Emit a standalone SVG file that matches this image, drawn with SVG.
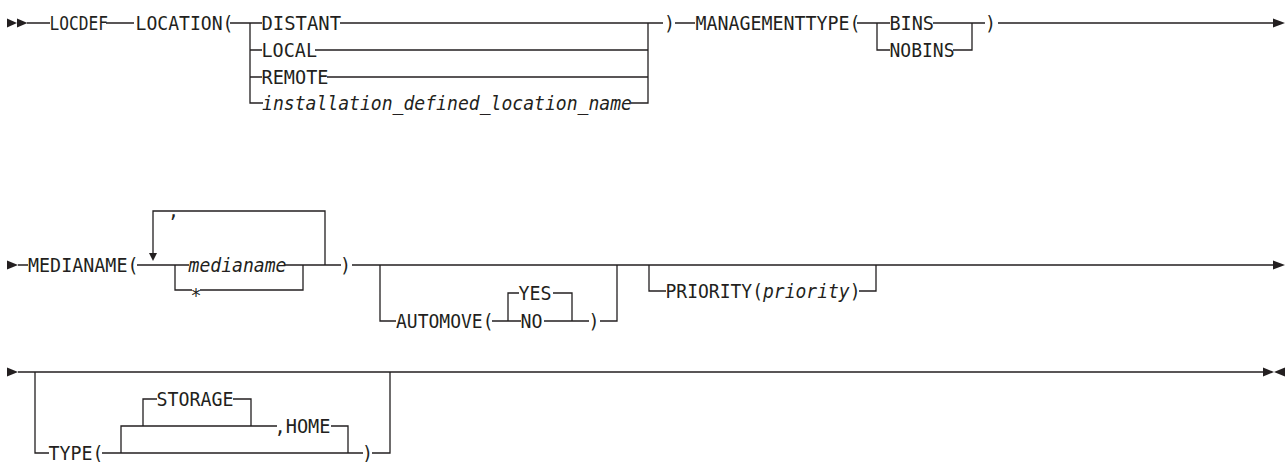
<svg xmlns="http://www.w3.org/2000/svg" width="1286" height="462" viewBox="0 0 1286 462">
<style>
  .t { font-family: "DejaVu Sans Mono", "Liberation Mono", monospace; font-size: 19px; fill: #231f20; }
  .i { font-style: italic; }
  .c { fill: none; stroke: #231f20; stroke-width: 1.3; }
  .a { fill: #231f20; stroke: none; }
</style>
<rect width="1286" height="462" fill="#ffffff"/>
<g id="connectors">
  <!-- row 1 -->
  <polygon class="a" points="7,18.5 17,23 7,27.5"/>
  <polygon class="a" points="17,18.5 27.5,23 17,27.5"/>
  <path class="c" d="M27,23 H50 M106,23 H134 M230,23 H262 M250,23 V103 H263 M250,50 H262 M250,77 H262"/>
  <path class="c" d="M340,23 H648 V103 H631 M315,50 H648 M327,77 H648 M648,23 H663 M675,23 H695"/>
  <path class="c" d="M857,23 H890 M877,23 V50 H890 M933,23 H972 V50 H953 M972,23 H985 M998,23 H1274"/>
  <polygon class="a" points="1273,18.5 1285,23 1273,27.5"/>
  <!-- row 2 -->
  <polygon class="a" points="7,260.5 18,265 7,269.5"/>
  <path class="c" d="M18,265 H28 M137,265 H189 M153,253 V211 H325 V265 M175,265 V290 H192 M200,290 H303 V265 M285,265 H341 M352,265 H1274"/>
  <polygon class="a" points="149,253 157,253 153,261"/>
  <path class="c" d="M380,265 V321 H396 M492,321 H521 M508,321 V293 H519 M553,293 H572 V321 M544,321 H589 M600,321 H617 V265"/>
  <path class="c" d="M649,265 V291 H666 M859,291 H876 V265"/>
  <polygon class="a" points="1273,260.5 1285,265 1273,269.5"/>
  <!-- row 3 -->
  <polygon class="a" points="7,367.5 18,372 7,376.5"/>
  <path class="c" d="M18,372 H1263 M35,372 V453 H49 M102,453 H363 M372,453 H390 V372"/>
  <path class="c" d="M121,453 V426 H277 M331,426 H348 V453 M143,426 V399 H157 M233,399 H251 V426"/>
  <polygon class="a" points="1263,367.5 1274,372 1263,376.5"/>
  <polygon class="a" points="1285,367.5 1274,372 1285,376.5"/>
</g>
<g id="n-locdef"><text class="t" x="49.5" y="30" textLength="58.5" lengthAdjust="spacingAndGlyphs">LOCDEF</text></g>
<g id="n-location"><text class="t" x="135.5" y="30" textLength="98" lengthAdjust="spacingAndGlyphs">LOCATION(</text></g>
<g id="n-distant"><text class="t" x="261.5" y="30" textLength="79.5" lengthAdjust="spacingAndGlyphs">DISTANT</text></g>
<g id="n-local"><text class="t" x="261.5" y="57" textLength="55.5" lengthAdjust="spacingAndGlyphs">LOCAL</text></g>
<g id="n-remote"><text class="t" x="261.5" y="84" textLength="67" lengthAdjust="spacingAndGlyphs">REMOTE</text></g>
<g id="n-instname"><text class="t i" x="262" y="110" textLength="370" lengthAdjust="spacingAndGlyphs">installation_defined_location_name</text></g>
<g id="n-rp1"><text class="t" x="664" y="30" textLength="11" lengthAdjust="spacingAndGlyphs">)</text></g>
<g id="n-mgmt"><text class="t" x="695.5" y="30" textLength="165" lengthAdjust="spacingAndGlyphs">MANAGEMENTTYPE(</text></g>
<g id="n-bins"><text class="t" x="889.5" y="30" textLength="44.5" lengthAdjust="spacingAndGlyphs">BINS</text></g>
<g id="n-nobins"><text class="t" x="889.5" y="57" textLength="65" lengthAdjust="spacingAndGlyphs">NOBINS</text></g>
<g id="n-rp2"><text class="t" x="985" y="30" textLength="11" lengthAdjust="spacingAndGlyphs">)</text></g>
<g id="n-medianame"><text class="t" x="28" y="272" textLength="110.5" lengthAdjust="spacingAndGlyphs">MEDIANAME(</text></g>
<g id="n-comma"><text class="t" x="168" y="217" textLength="11" lengthAdjust="spacingAndGlyphs">,</text></g>
<g id="n-medianame-var"><text class="t i" x="188.5" y="272" textLength="98" lengthAdjust="spacingAndGlyphs">medianame</text></g>
<g id="n-star"><text class="t" x="190.5" y="302" textLength="11" lengthAdjust="spacingAndGlyphs">*</text></g>
<g id="n-rp3"><text class="t" x="340" y="272" textLength="11" lengthAdjust="spacingAndGlyphs">)</text></g>
<g id="n-automove"><text class="t" x="396" y="328" textLength="97.5" lengthAdjust="spacingAndGlyphs">AUTOMOVE(</text></g>
<g id="n-yes"><text class="t" x="518.5" y="300" textLength="33" lengthAdjust="spacingAndGlyphs">YES</text></g>
<g id="n-no"><text class="t" x="520.5" y="328" textLength="22" lengthAdjust="spacingAndGlyphs">NO</text></g>
<g id="n-rp4"><text class="t" x="588.5" y="328" textLength="11" lengthAdjust="spacingAndGlyphs">)</text></g>
<g id="n-priority"><text class="t" x="665.5" y="298" textLength="195" lengthAdjust="spacingAndGlyphs">PRIORITY(<tspan class="i">priority</tspan>)</text></g>
<g id="n-type"><text class="t" x="48.5" y="460" textLength="55" lengthAdjust="spacingAndGlyphs">TYPE(</text></g>
<g id="n-storage"><text class="t" x="156.5" y="406" textLength="77" lengthAdjust="spacingAndGlyphs">STORAGE</text></g>
<g id="n-home"><text class="t" x="274.5" y="433" textLength="56" lengthAdjust="spacingAndGlyphs">,HOME</text></g>
<g id="n-rp5"><text class="t" x="362" y="460" textLength="11" lengthAdjust="spacingAndGlyphs">)</text></g>
</svg>
